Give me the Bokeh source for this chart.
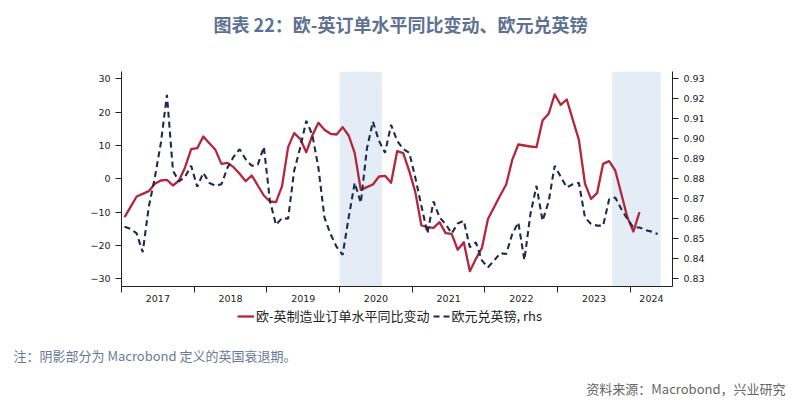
import numpy as np
from bokeh.plotting import figure
from bokeh.layouts import column
from bokeh.models import (Range1d, LinearAxis, FixedTicker, Legend,
                          LegendItem, BoxAnnotation, NumeralTickFormatter)
from bokeh.core.properties import value
from bokeh.embed import file_html
from bokeh.resources import INLINE

# ---------------- data ----------------
start_year = 2017
# Euro area minus UK manufacturing order level, y/y change (monthly, Jan 2017 - Feb 2024)
orders_yoy = [
    -11.5, -8.4, -5.3, -4.5, -3.7, -1.5, -0.5, -0.3, -2.0, -0.5, 3.5, 8.9,
    9.2, 12.7, 10.7, 8.7, 4.5, 4.8, 3.5, 1.5, -0.7, 1.0, -2.0, -5.0,
    -6.8, -7.0, -2.2, 9.5, 13.7, 12.0, 8.0, 13.0, 16.8, 14.7, 13.5, 13.3,
    15.5, 13.0, 7.7, -3.3, -2.5, -1.7, 0.7, 0.9, -1.2, 8.3, 7.7, 2.3,
    -4.0, -14.0, -14.5, -14.7, -13.0, -16.3, -16.5, -21.3, -19.0, -27.7, -24.0, -20.7,
    -12.0, -8.5, -5.0, -1.7, 5.7, 10.3, 10.0, 9.7, 9.5, 17.5, 19.5, 25.3,
    22.2, 23.8, 17.7, 11.7, -1.4, -6.0, -4.3, 4.5, 5.3, 2.5, -4.5, -11.5,
    -15.8, -10.0,
]
# EUR/GBP (monthly, Jan 2017 - May 2024), rhs
eurgbp = [
    0.856, 0.855, 0.8527, 0.8433, 0.866, 0.8806, 0.898, 0.922, 0.884, 0.8787, 0.881, 0.8865,
    0.876, 0.883, 0.878, 0.8765, 0.8773, 0.8856, 0.891, 0.8948, 0.8898, 0.8865, 0.8871, 0.896,
    0.869, 0.857, 0.8604, 0.860, 0.884, 0.8956, 0.909, 0.902, 0.8856, 0.8607, 0.8524, 0.846,
    0.842, 0.8607, 0.878, 0.868, 0.895, 0.9086, 0.899, 0.893, 0.907, 0.899, 0.895, 0.893,
    0.8806, 0.8665, 0.8527, 0.8687, 0.8607, 0.8574, 0.8527, 0.8577, 0.859, 0.8458, 0.8482, 0.8391,
    0.8358, 0.8391, 0.8428, 0.8424, 0.8524, 0.8582, 0.8394, 0.8624, 0.8765, 0.859, 0.8685, 0.8865,
    0.881, 0.8757, 0.8773, 0.878, 0.8607, 0.8574, 0.8566, 0.8566, 0.8698, 0.8707, 0.8649, 0.8599,
    0.8557, 0.8557, 0.8544, 0.8536, 0.8524,
]
# UK recessions (Macrobond definition), first and last month
recessions = [("2020-01", "2020-07"), ("2023-10", "2024-05")]
year_labels = ["2017", "2018", "2019", "2020", "2021", "2022", "2023", "2024"]
left_ticks = [-30, -20, -10, 0, 10, 20, 30]
right_ticks = [0.83, 0.84, 0.85, 0.86, 0.87, 0.88, 0.89, 0.90, 0.91, 0.92, 0.93]

title_text = "图表 22：欧-英订单水平同比变动、欧元兑英镑"
series_names = ["欧-英制造业订单水平同比变动", "欧元兑英镑, rhs"]
note_text = "注：阴影部分为 Macrobond 定义的英国衰退期。"
source_text = "资料来源：Macrobond，兴业研究"


def month_index(s):
    y, m = map(int, s.split("-"))
    return (y - start_year) * 12 + (m - 1)


x_orders = np.arange(len(orders_yoy)) + 0.5
x_fx = np.arange(len(eurgbp)) + 0.5

# ---------------- geometry ----------------
W = 800
TOP_H = 71                 # title strip
BL, BR, BB = 121, 128, 20  # main chart borders
FRAME_H = 215
MAIN_H = FRAME_H + BB
BOT_H = 409 - TOP_H - MAIN_H
X_END = 90.95
Y_LO, Y_HI = -32.3, 32.2
FX_LO, FX_HI = 0.88 + Y_LO / 600.0, 0.88 + Y_HI / 600.0

cjk = "Noto Sans CJK SC"
RED = "#b3263c"
NAVY = "#1f2b4b"


def blank(height, y0, y1):
    f = figure(width=W, height=height, output_backend="svg", toolbar_location=None,
               x_range=Range1d(0, W), y_range=Range1d(y1, y0),
               x_axis_type=None, y_axis_type=None,
               min_border_left=0, min_border_right=0,
               min_border_top=0, min_border_bottom=0, frame_align=False)
    f.outline_line_color = None
    f.xgrid.visible = False
    f.ygrid.visible = False
    f.background_fill_color = "white"
    f.border_fill_color = "white"
    return f


# ---------------- title strip ----------------
top = blank(TOP_H, 0, TOP_H)
top.text(x=[400], y=[23], text=[title_text], text_align="center",
         text_baseline="middle", text_font=value(cjk), text_font_size="18px",
         text_font_style="bold", text_color="#5e7191")

# ---------------- main chart ----------------
p = figure(width=W, height=MAIN_H, output_backend="svg", toolbar_location=None,
           x_range=Range1d(0, X_END), y_range=Range1d(Y_LO, Y_HI),
           min_border_left=BL, min_border_right=BR,
           min_border_top=0, min_border_bottom=BB, frame_align=False)
p.extra_y_ranges = {"fx": Range1d(FX_LO, FX_HI)}
p.outline_line_color = None
p.xgrid.visible = False
p.ygrid.visible = False
p.background_fill_color = "white"
p.border_fill_color = "white"

for s, e in recessions:
    p.add_layout(BoxAnnotation(left=month_index(s), right=month_index(e) + 1,
                               fill_color="#e4ecf6", fill_alpha=1.0,
                               line_color=None, level="underlay"))

p.line(x_orders, orders_yoy, line_color=RED, line_width=2.3, line_join="round")
p.line(x_fx, eurgbp, y_range_name="fx", line_color=NAVY,
       line_width=2.1, line_dash="6 4")

tick_font = "DejaVu Sans"
axis_color = "#222222"

xa = p.xaxis[0]
mid = [12 * i + 6 for i in range(len(year_labels) - 1)]
mid.append((12 * (len(year_labels) - 1) + X_END) / 2)
xa.ticker = FixedTicker(ticks=mid, minor_ticks=[12 * i for i in range(len(year_labels))])
xa.major_label_overrides = {m: lab for m, lab in zip(mid, year_labels)}
xa.major_tick_line_color = None
xa.major_tick_out = 6
xa.major_tick_in = 0
xa.minor_tick_line_color = axis_color
xa.minor_tick_out = 6
xa.minor_tick_in = 0
xa.major_label_standoff = 2
xa.axis_line_color = axis_color

ya = p.yaxis[0]
ya.ticker = FixedTicker(ticks=left_ticks)
ya.minor_tick_line_color = None
ya.major_tick_out = 6
ya.major_tick_in = 0
ya.major_label_standoff = 5
ya.axis_line_color = axis_color
ya.major_tick_line_color = axis_color

ra = LinearAxis(y_range_name="fx", ticker=FixedTicker(ticks=right_ticks),
                formatter=NumeralTickFormatter(format="0.00"))
ra.minor_tick_line_color = None
ra.major_tick_out = 6
ra.major_tick_in = 0
ra.major_label_standoff = 5
ra.axis_line_color = axis_color
ra.major_tick_line_color = axis_color
p.add_layout(ra, "right")

for ax in (xa, ya, ra):
    ax.major_label_text_font = tick_font
    ax.major_label_text_font_size = "9.5px"
    ax.major_label_text_color = "#222222"

# ---------------- legend and notes strip ----------------
y0 = TOP_H + MAIN_H
bot = blank(BOT_H, y0, 409)
nan = [float("nan")]
k1 = bot.line(x=nan, y=nan, line_color=RED, line_width=2.3)
k2 = bot.line(x=nan, y=nan, line_color=NAVY, line_width=2.1, line_dash="6 4")
legend = Legend(items=[LegendItem(label=series_names[0], renderers=[k1]),
                       LegendItem(label=series_names[1], renderers=[k2])],
                orientation="horizontal", location=(237, 84),
                background_fill_alpha=0, border_line_color=None,
                padding=0, margin=0, spacing=3, label_standoff=2,
                glyph_width=17, glyph_height=16, label_height=16,
                label_text_font=cjk, label_text_font_size="13px",
                label_text_color="#222222")
bot.add_layout(legend)

bot.text(x=[13], y=[355], text=[note_text], text_align="left",
         text_baseline="middle", text_font=value(cjk), text_font_size="13px",
         text_color="#6a7a95")
bot.text(x=[785], y=[388], text=[source_text], text_align="right",
         text_baseline="middle", text_font=value(cjk), text_font_size="13px",
         text_color="#666666")

layout = column(top, p, bot, spacing=0)
open("out.html", "w").write(file_html(layout, INLINE))
